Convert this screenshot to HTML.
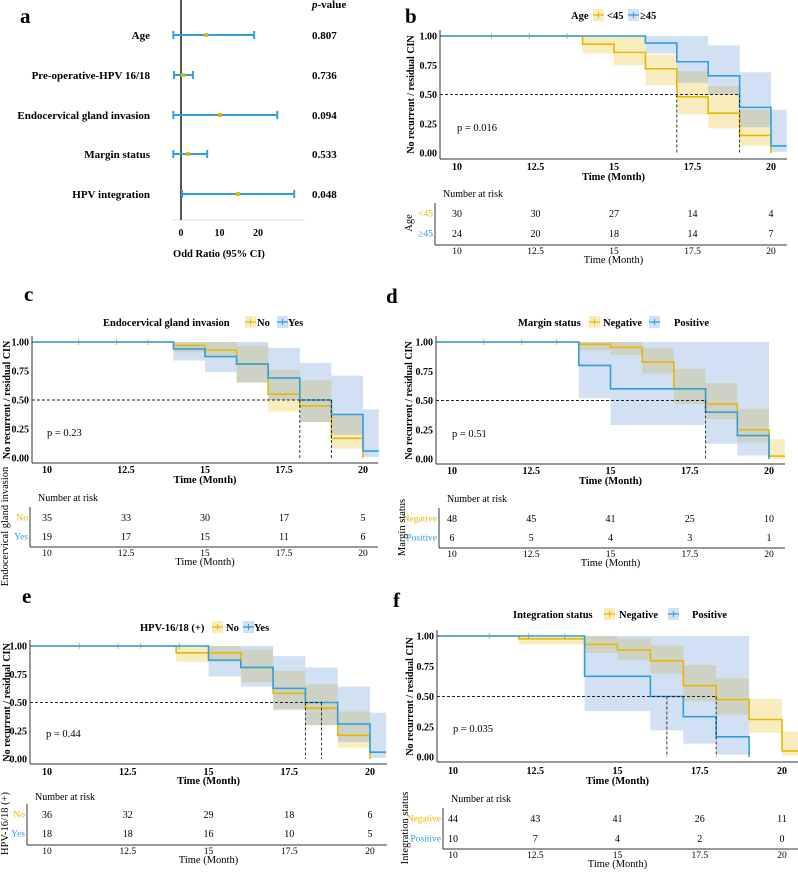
<!DOCTYPE html>
<html><head><meta charset="utf-8">
<style>
html,body{margin:0;padding:0;background:#fff;}
svg{display:block;font-family:"Liberation Serif",serif;}
.b{font-weight:bold;}
</style></head>
<body>
<svg id="fig" width="798" height="872" viewBox="0 0 798 872" xmlns="http://www.w3.org/2000/svg"></svg>
<script>
// ---------- Panel a: forest data ----------
const forestLabels = ["Age","Pre-operative-HPV 16/18","Endocervical gland invasion","Margin status","HPV integration"];
const forestEst = [6.6, 0.5, 10.2, 1.8, 14.8];
const forestLo = [-2, -1.8, -2, -2, 0.3];
const forestHi = [19, 3.1, 25, 6.8, 29.4];
const forestP = ["0.807","0.736","0.094","0.533","0.048"];
const forestTicks = [0, 10, 20];

// ---------- Panel b: Age ----------
const bTimesA = [14, 15, 16, 17, 18, 19, 20];
const bSurvA = [0.93, 0.86, 0.72, 0.48, 0.34, 0.15, 0];
const bLoA = [0.85, 0.75, 0.58, 0.33, 0.21, 0.06, 0];
const bHiA = [1, 1, 0.84, 0.70, 0.57, 0.37, 0];
const bTimesB = [16, 17, 18, 19, 20];
const bSurvB = [0.94, 0.78, 0.66, 0.39, 0.06];
const bLoB = [0.85, 0.60, 0.50, 0.22, 0.01];
const bHiB = [1, 1, 0.92, 0.69, 0.37];
const bRiskA = [30, 30, 27, 14, 4];
const bRiskB = [24, 20, 18, 14, 7];
const bMedians = [17, 19];
const bCensor = [11.1, 12.3, 13.5];

// ---------- Panel c: Endocervical gland invasion ----------
const cTimesA = [14, 15, 16, 17, 18, 19, 20];
const cSurvA = [0.97, 0.93, 0.81, 0.55, 0.45, 0.17, 0];
const cLoA = [0.91, 0.86, 0.65, 0.40, 0.31, 0.08, 0];
const cHiA = [1, 1, 0.97, 0.76, 0.67, 0.37, 0];
const cTimesB = [14, 15, 16, 17, 18, 19, 20];
const cSurvB = [0.94, 0.875, 0.81, 0.69, 0.5, 0.375, 0.06];
const cLoB = [0.84, 0.74, 0.65, 0.50, 0.31, 0.20, 0.01];
const cHiB = [1, 1, 1, 0.95, 0.82, 0.71, 0.42];
const cRiskA = [35, 33, 30, 17, 5];
const cRiskB = [19, 17, 15, 11, 6];
const cMedians = [18, 19];
const cCensor = [11, 12.2, 13.2];

// ---------- Panel d: Margin status ----------
const dTimesA = [14, 15, 16, 17, 18, 19, 20];
const dSurvA = [0.98, 0.955, 0.83, 0.6, 0.47, 0.25, 0.025];
const dLoA = [0.93, 0.89, 0.73, 0.47, 0.34, 0.14, 0];
const dHiA = [1, 1, 0.95, 0.77, 0.65, 0.43, 0.17];
const dTimesB = [14, 15, 18, 19, 20];
const dSurvB = [0.8, 0.6, 0.4, 0.2, 0];
const dLoB = [0.52, 0.29, 0.13, 0.03, 0];
const dHiB = [1, 1, 1, 1, 0];
const dRiskA = [48, 45, 41, 25, 10];
const dRiskB = [6, 5, 4, 3, 1];
const dMedians = [18];
const dCensor = [11, 12.2, 13.3];

// ---------- Panel e: HPV-16/18 (+) ----------
const eTimesA = [14, 16, 17, 18, 19, 20];
const eSurvA = [0.94, 0.81, 0.58, 0.45, 0.21, 0];
const eLoA = [0.86, 0.68, 0.43, 0.30, 0.10, 0];
const eHiA = [1, 0.97, 0.78, 0.66, 0.42, 0];
const eTimesB = [15, 16, 17, 18, 19, 20];
const eSurvB = [0.875, 0.81, 0.625, 0.5, 0.31, 0.06];
const eLoB = [0.73, 0.64, 0.44, 0.30, 0.15, 0.01];
const eHiB = [1, 1, 0.91, 0.81, 0.64, 0.41];
const eRiskA = [36, 32, 29, 18, 6];
const eRiskB = [18, 18, 16, 10, 5];
const eMedians = [18, 18.5];
const eCensor = [11, 12.2, 12.9, 14.1];

// ---------- Panel f: Integration status ----------
const fTimesA = [12, 14, 15, 16, 17, 18, 19, 20];
const fSurvA = [0.977, 0.93, 0.885, 0.795, 0.59, 0.475, 0.31, 0.05];
const fLoA = [0.93, 0.86, 0.80, 0.69, 0.46, 0.35, 0.20, 0.01];
const fHiA = [1, 1, 0.98, 0.92, 0.76, 0.65, 0.48, 0.21];
const fTimesB = [14, 16, 17, 18, 19];
const fSurvB = [0.667, 0.5, 0.333, 0.167, 0];
const fLoB = [0.38, 0.22, 0.11, 0.02, 0];
const fHiB = [1, 1, 1, 1, 0];
const fRiskA = [44, 43, 41, 26, 11];
const fRiskB = [10, 7, 4, 2, 0];
const fMedians = [16.5, 18];
const fCensor = [11.1, 12.3, 13.4];

const xTicks = [10, 12.5, 15, 17.5, 20];
const yTicks = [0, 0.25, 0.5, 0.75, 1];

const GOLD = "#E7B800", BLUE = "#2E9FDF", BLUEBAND = "#4A84D2";
const NS = "http://www.w3.org/2000/svg";
const svg = document.getElementById("fig");

function mk(tag, attrs, parent, txt) {
  const e = document.createElementNS(NS, tag);
  for (const k in attrs) e.setAttribute(k, attrs[k]);
  if (txt !== undefined) e.textContent = txt;
  (parent || svg).appendChild(e);
  return e;
}

// ---------- Draw panel a ----------
(function () {
  const g = mk("g", {});
  
  
  const x0 = 181, pu = 3.85;
  const fx = v => x0 + v * pu;
  const rowY = [35, 75, 115, 154, 194];
  const letter = mk("text", {x: 20, y: 23, "font-size": 21, class: "b"}, g, "a");
  
  
  const hdr = mk("text", {x: 312, y: 8, "font-size": 11, class: "b"}, g);
  
  
  mk("tspan", {"font-style": "italic"}, hdr, "p");
  mk("tspan", {}, hdr, "-value");
  const ax = mk("line", {x1: 172, y1: 220, x2: 305, y2: 220, stroke: "#ddd", "stroke-width": 1}, g);
  
  
  const vl = mk("line", {x1: x0, y1: 0, x2: x0, y2: 220, stroke: "#555", "stroke-width": 2}, g);
  
  
  forestTicks.forEach(t => {
    const tl = mk("text", {x: fx(t), y: 236, "font-size": 10, "text-anchor": "middle", class: "b"}, g, String(t));
    
    
  });
  const xt = mk("text", {x: 219, y: 257, "font-size": 10.5, "text-anchor": "middle", class: "b"}, g, "Odd Ratio (95% CI)");
  
  
  forestLabels.forEach((lab, i) => {
    const y = rowY[i];
    const t = mk("text", {x: 150, y: y + 4, "font-size": 11, "text-anchor": "end", class: "b"}, g, lab);
    
    
    const l = mk("line", {x1: fx(forestLo[i]), y1: y, x2: fx(forestHi[i]), y2: y, stroke: BLUE, "stroke-width": 2}, g);
    
    
    [forestLo[i], forestHi[i]].forEach(v => {
      const c = mk("line", {x1: fx(v), y1: y - 4, x2: fx(v), y2: y + 4, stroke: BLUE, "stroke-width": 2}, g);
      
      
    });
    const p = mk("rect", {x: fx(forestEst[i]) - 2, y: y - 2, width: 4, height: 4, fill: GOLD}, g);
    
    
    const pv = mk("text", {x: 312, y: y + 4, "font-size": 11, class: "b"}, g, forestP[i]);
    
    
  });
})();

// ---------- KM panels ----------
function km(c) {
  const g = mk("g", {});
  
  
  const sx = (c.x20 - c.x10) / 10;
  const X = t => c.x10 + (t - 10) * sx;
  const Y = s => c.y0 - s * (c.y0 - c.y1);

  const L = mk("text", {x: c.lx, y: c.ly, "font-size": 21, class: "b"}, g, c.letter);
  
  

  // legend
  const lg = mk("g", {}, g);
  
  
  const lt = mk("text", {x: c.leg[0], y: c.legY + 4, "font-size": 10.5, class: "b"}, lg, c.title);
  
  
  [[c.leg[1], c.leg[2], GOLD, c.names[0], GOLD], [c.leg[3], c.leg[4], BLUE, c.names[1], BLUEBAND]].forEach(e => {
    const k = mk("rect", {x: e[0], y: c.legY - 6, width: 11, height: 12, fill: e[4], "fill-opacity": 0.25}, lg);
    
    
    mk("line", {x1: e[0], y1: c.legY, x2: e[0] + 11, y2: c.legY, stroke: e[2], "stroke-width": 1.3}, lg);
    mk("line", {x1: e[0] + 5.5, y1: c.legY - 3, x2: e[0] + 5.5, y2: c.legY + 3, stroke: e[2], "stroke-width": 1}, lg);
    const tx = mk("text", {x: e[1], y: c.legY + 4, "font-size": 10.5, class: "b"}, lg, e[3]);
    
    
  });

  const groups = [
    {T: c.TA, S: c.SA, Lo: c.LoA, Hi: c.HiA, col: GOLD, band: GOLD, end: c.endA, nm: 'group-1'},
    {T: c.TB, S: c.SB, Lo: c.LoB, Hi: c.HiB, col: BLUE, band: BLUEBAND, end: c.endB, nm: 'group-2'}
  ];
  groups.forEach(gr => {
    for (let i = 0; i < gr.T.length; i++) {
      const t1 = i + 1 < gr.T.length ? gr.T[i + 1] : gr.end;
      if (t1 <= gr.T[i]) continue;
      const r = mk("rect", {x: X(gr.T[i]), y: Y(gr.Hi[i]), width: X(t1) - X(gr.T[i]), height: Math.max(0, Y(gr.Lo[i]) - Y(gr.Hi[i])), fill: gr.band, "fill-opacity": 0.25}, g);
      
      
    }
  });
  groups.forEach(gr => {
    let d = "M" + c.axL + "," + Y(1);
    for (let i = 0; i < gr.T.length; i++) d += " H" + X(gr.T[i]) + " V" + Y(gr.S[i]);
    d += " H" + X(gr.end);
    const p = mk("path", {d: d, fill: "none", stroke: gr.col, "stroke-width": 1.6}, g);
    
    
  });
  c.censor.forEach(t => {
    const m = mk("line", {x1: X(t), y1: Y(1) - 3, x2: X(t), y2: Y(1) + 3, stroke: BLUE, "stroke-width": 1, opacity: 0.6}, g);
    
    
  });
  const mx = Math.max.apply(null, c.med);
  const hl = mk("line", {x1: c.axL, y1: Y(0.5), x2: X(mx), y2: Y(0.5), stroke: "#222", "stroke-width": 0.9, "stroke-dasharray": "3,2"}, g);
  
  
  c.med.forEach(m => {
    const vl = mk("line", {x1: X(m), y1: Y(0.5), x2: X(m), y2: Y(0), stroke: "#222", "stroke-width": 0.9, "stroke-dasharray": "3,2"}, g);
    
    
  });
  const ya = mk("line", {x1: c.axL, y1: c.y1 - 6, x2: c.axL, y2: c.axB, stroke: "#333", "stroke-width": 1}, g);
  
  
  const xa = mk("line", {x1: c.axL, y1: c.axB, x2: c.axR, y2: c.axB, stroke: "#333", "stroke-width": 1}, g);
  
  
  yTicks.forEach(v => {
    const t = mk("text", {x: c.axL - 3, y: Y(v) + 3.5, "font-size": 10, "text-anchor": "end", class: "b"}, g, v.toFixed(2));
    
    
  });
  xTicks.forEach(v => {
    const t = mk("text", {x: X(v), y: c.tickY, "font-size": 10, "text-anchor": "middle", class: "b"}, g, String(v));
    
    
  });
  const xt = mk("text", {x: (c.axL + c.axR) / 2, y: c.titY, "font-size": 10.5, "text-anchor": "middle", class: "b"}, g, "Time (Month)");
  
  
  const ycy = (c.y1 + c.y0) / 2;
  const yt = mk("text", {x: c.ytx, y: ycy, "font-size": 10, "text-anchor": "middle", class: "b", transform: "rotate(-90 " + c.ytx + " " + ycy + ")"}, g, "No recurrent / residual CIN");
  
  
  const pt = mk("text", {x: c.px, y: c.py, "font-size": 10.5}, g, c.pval);
  
  

  const rg = mk("g", {}, g);
  
  
  const nt = mk("text", {x: c.rL + 8, y: c.narY + 4, "font-size": 10}, rg, "Number at risk");
  
  
  mk("line", {x1: c.rL, y1: c.rowA - 10, x2: c.rL, y2: c.rAx, stroke: "#333", "stroke-width": 1}, rg);
  mk("line", {x1: c.rL, y1: c.rAx, x2: c.axR, y2: c.rAx, stroke: "#333", "stroke-width": 1}, rg);
  [[c.rowA, c.RA, GOLD, c.names[0]], [c.rowB, c.RB, BLUE, c.names[1]]].forEach(r => {
    const gl = mk("text", {x: c.rL - 2, y: r[0] + 3.5, "font-size": 9.5, "text-anchor": "end", fill: r[2]}, rg, r[3]);
    
    
    r[1].forEach((n, i) => {
      const t = mk("text", {x: X(xTicks[i]), y: r[0] + 4, "font-size": 10, "text-anchor": "middle"}, rg, String(n));
      
      
    });
  });
  xTicks.forEach(v => {
    const t = mk("text", {x: X(v), y: c.rAx + 9, "font-size": 9.5, "text-anchor": "middle"}, rg, String(v));
    
    
  });
  const rt = mk("text", {x: (c.axL + c.axR) / 2, y: c.rAx + 18, "font-size": 10.5, "text-anchor": "middle"}, rg, "Time (Month)");
  
  
  const rcy = (c.rowA + c.rowB) / 2;
  const ry = mk("text", {x: c.rgx, y: rcy, "font-size": 10.5, "text-anchor": "middle", transform: "rotate(-90 " + c.rgx + " " + rcy + ")"}, rg, c.title);
  
  
}

km({letter: "b", lx: 405, ly: 23, title: "Age", names: ["<45", "≥45"], leg: [571, 593, 607, 628, 640], legY: 15,
  x10: 457, x20: 771, axL: 440, axR: 787, y1: 36, y0: 153, axB: 159, tickY: 170, titY: 180, ytx: 414, px: 457, py: 131, pval: "p = 0.016",
  TA: bTimesA, SA: bSurvA, LoA: bLoA, HiA: bHiA, endA: 20, TB: bTimesB, SB: bSurvB, LoB: bLoB, HiB: bHiB, endB: 20.5,
  med: bMedians, censor: bCensor, RA: bRiskA, RB: bRiskB, rL: 435, narY: 193, rowA: 213, rowB: 233, rAx: 245, rgx: 412});

km({letter: "c", lx: 24, ly: 301, title: "Endocervical gland invasion", names: ["No", "Yes"], leg: [103, 245, 257, 277, 288], legY: 322,
  x10: 47, x20: 363, axL: 32, axR: 378, y1: 342, y0: 458, axB: 463, tickY: 473, titY: 483, ytx: 10, px: 47, py: 436, pval: "p = 0.23",
  TA: cTimesA, SA: cSurvA, LoA: cLoA, HiA: cHiA, endA: 20, TB: cTimesB, SB: cSurvB, LoB: cLoB, HiB: cHiB, endB: 20.5,
  med: cMedians, censor: cCensor, RA: cRiskA, RB: cRiskB, rL: 30, narY: 497, rowA: 517, rowB: 536, rAx: 547, rgx: 8});

km({letter: "d", lx: 386, ly: 303, title: "Margin status", names: ["Negative", "Positive"], leg: [518, 589, 603, 649, 674], legY: 322,
  x10: 452, x20: 769, axL: 436, axR: 785, y1: 342, y0: 459, axB: 464, tickY: 474, titY: 484, ytx: 412, px: 452, py: 437, pval: "p = 0.51",
  TA: dTimesA, SA: dSurvA, LoA: dLoA, HiA: dHiA, endA: 20.5, TB: dTimesB, SB: dSurvB, LoB: dLoB, HiB: dHiB, endB: 20,
  med: dMedians, censor: dCensor, RA: dRiskA, RB: dRiskB, rL: 439, narY: 498, rowA: 518, rowB: 537, rAx: 548, rgx: 405});

km({letter: "e", lx: 22, ly: 603, title: "HPV-16/18 (+)", names: ["No", "Yes"], leg: [140, 212, 226, 243, 254], legY: 627,
  x10: 47, x20: 370, axL: 30, axR: 387, y1: 646, y0: 759, axB: 764, tickY: 775, titY: 784, ytx: 10, px: 46, py: 737, pval: "p = 0.44",
  TA: eTimesA, SA: eSurvA, LoA: eLoA, HiA: eHiA, endA: 20, TB: eTimesB, SB: eSurvB, LoB: eLoB, HiB: eHiB, endB: 20.5,
  med: eMedians, censor: eCensor, RA: eRiskA, RB: eRiskB, rL: 27, narY: 796, rowA: 814, rowB: 833, rAx: 845, rgx: 8});

km({letter: "f", lx: 393, ly: 607, title: "Integration status", names: ["Negative", "Positive"], leg: [513, 604, 619, 668, 692], legY: 614,
  x10: 453, x20: 782, axL: 437, axR: 798, y1: 636, y0: 757, axB: 762, tickY: 774, titY: 784, ytx: 413, px: 453, py: 732, pval: "p = 0.035",
  TA: fTimesA, SA: fSurvA, LoA: fLoA, HiA: fHiA, endA: 20.5, TB: fTimesB, SB: fSurvB, LoB: fLoB, HiB: fHiB, endB: 19,
  med: fMedians, censor: fCensor, RA: fRiskA, RB: fRiskB, rL: 443, narY: 798, rowA: 818, rowB: 838, rAx: 849, rgx: 408});
</script>
</body></html>
